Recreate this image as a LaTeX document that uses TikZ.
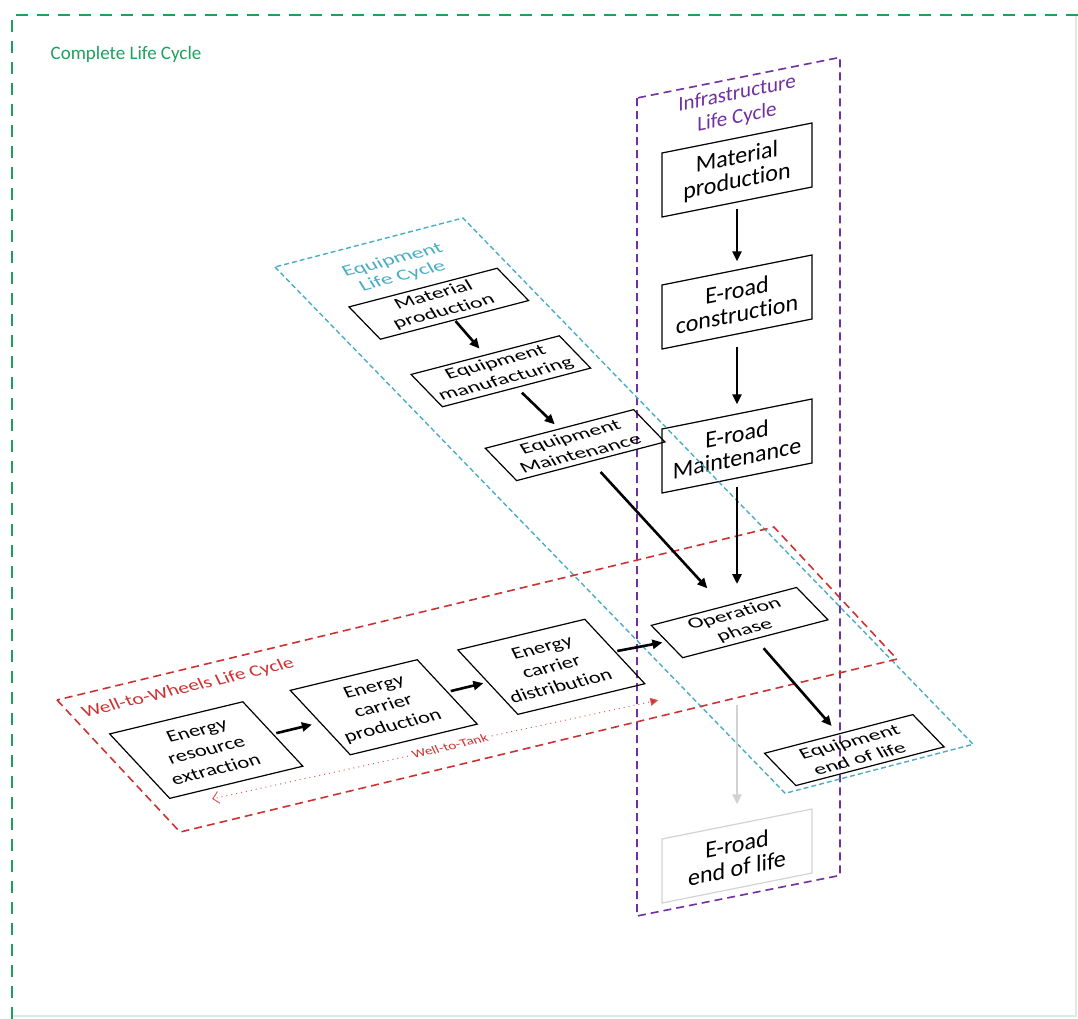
\documentclass[tikz,border=0pt]{standalone}
\usepackage{fontspec}
\setmainfont{Carlito}[Ligatures={NoCommon,NoContextual}]
\usetikzlibrary{arrows.meta}
\definecolor{cgreen}{RGB}{30,160,95}
\definecolor{cpurple}{RGB}{112,48,160}
\definecolor{ccyan}{RGB}{75,172,198}
\definecolor{cred}{RGB}{205,50,50}
\definecolor{cgray}{RGB}{210,210,210}
\begin{document}
\begin{tikzpicture}[x=0.5pt,y=-0.5pt,
  box/.style={draw=black, line width=0.6pt, inner sep=0pt, align=center, transform shape},
  infrabox/.style={box, minimum width=75pt, minimum height=32pt, font=\fontsize{12}{12}\selectfont},
  eqbox/.style={box, minimum width=76.5pt, minimum height=22.5pt},
  wtwbox/.style={box, minimum width=68.5pt, minimum height=44pt},
  ttext/.style={align=center, inner sep=0pt, transform shape},
  eqtxt/.style={ttext, font=\fontsize{11.5}{13.5}\selectfont},
  wtwtxt/.style={ttext, font=\fontsize{11}{13.5}\selectfont},
  infralabel/.style={ttext, text=cpurple, font=\fontsize{10.5}{12}\selectfont},
  eqlabel/.style={ttext, text=ccyan, font=\fontsize{11.5}{13}\selectfont},
  wtwlabel/.style={ttext, text=cred, font=\fontsize{10.5}{12}\selectfont},
  wttlabel/.style={ttext, text=cred, inner sep=2pt, font=\fontsize{7.5}{8}\selectfont},
  flow/.style={-{Triangle[length=5pt,width=4.5pt]}, line width=1.3pt, black},
  grayflow/.style={-{Triangle[length=5pt,width=4.5pt]}, line width=1.3pt, cgray},
  wttline/.style={cred!80, line width=0.5pt, dotted},
]
\useasboundingbox (0,0) rectangle (1078,1019);

% outer frame
\draw[cgreen!18, line width=1pt] (1076,15) -- (1076,1016) -- (12,1016);
\draw[cgreen, line width=1.3pt, dash pattern=on 6pt off 4.5pt] (12,1019) -- (12,15) -- (1078,15);
\node[text=cgreen, font=\fontsize{9.5}{11}\selectfont] (clc) at (126,54) {Complete Life Cycle};

% infrastructure plane
\begin{scope}[shift={(737,0)}, yslant=0.2]
  \draw[cpurple, line width=0.8pt, dash pattern=on 4pt off 2.5pt] (-100,78) rectangle (103,896);
  \node[infralabel] (il) at (0,106) {Infrastructure\\Life Cycle};
  \node[infrabox] (imat) at (0,170) {Material\\production};
  \node[infrabox] (icons) at (0,302) {E-road\\construction};
  \node[infrabox] (imaint) at (0,446) {E-road\\Maintenance};
  \node[infrabox, draw=cgray] (ieol) at (0,856) {E-road\\end of life};
\end{scope}

% equipment plane (boxes)
\begin{scope}[shift={(275,267)}, cm={0.969,0.2526,-0.696,0.718,(0,0)}]
  \draw[ccyan, line width=0.7pt, dash pattern=on 2.5pt off 1.5pt] (0,0) rectangle (194,733);
  \coordinate (elpos) at (100,37);
  \node[eqbox] (emat) at (105.6,88.3) {};
  \node[eqbox] (eman) at (102.8,181.4) {};
  \node[eqbox] (emaint) at (105,285) {};
  \node[eqbox, minimum width=75pt] (op) at (98.8,530) {};
  \node[eqbox] (eeol) at (91.5,705) {};
\end{scope}
% equipment plane (texts, flatter slant)
\begin{scope}[cm={0.969,0.2526,-0.38,0.62,(0,0)}]
  \node[eqlabel] (el) at (elpos) {Equipment\\Life Cycle};
  \node[eqtxt] (emat-t) at (emat.center) {Material\\production};
  \node[eqtxt] (eman-t) at (eman.center) {Equipment\\manufacturing};
  \node[eqtxt] (emaint-t) at (emaint.center) {Equipment\\Maintenance};
  \node[eqtxt] (op-t) at (op.center) {Operation\\phase};
  \node[eqtxt] (eeol-t) at (eeol.center) {Equipment\\end of life};
\end{scope}

% well-to-wheels plane (boxes)
\begin{scope}[shift={(57,700)}, cm={0.972,0.2345,-0.682,0.732,(0,0)}]
  \draw[cred, line width=0.8pt, dash pattern=on 4pt off 2.5pt] (0,0) rectangle (737.6,180.4);
  \coordinate (wlpos) at (119.5,21.8);
  \node[wtwbox] (wext) at (86.2,96) {};
  \node[wtwbox, minimum width=65.3pt] (wprod) at (268.8,96) {};
  \node[wtwbox, minimum width=65.3pt] (wdist) at (441.2,96) {};
  \coordinate (wttpos) at (294,157);
  \coordinate (wttL) at (53,152);
  \coordinate (wttR) at (505,162);
\end{scope}
% well-to-wheels plane (texts)
\begin{scope}[cm={0.972,0.2345,-0.35,0.72,(0,0)}]
  \node[wtwlabel] (wl) at (wlpos) {Well-to-Wheels Life Cycle};
  \node[wtwtxt] (wext-t) at (wext.center) {Energy\\resource\\extraction};
  \node[wtwtxt] (wprod-t) at (wprod.center) {Energy\\carrier\\production};
  \node[wtwtxt] (wdist-t) at (wdist.center) {Energy\\carrier\\distribution};
  \node[wttlabel] (wtt) at (wttpos) {Well-to-Tank};
\end{scope}

% connectors
\draw[flow, shorten <=3pt, shorten >=4pt] (imat.south) -- (icons.north);
\draw[flow, shorten <=6pt, shorten >=4.5pt] (icons.south) -- (imaint.north);
\draw[flow, shorten <=4pt, shorten >=11pt] (imaint.south) -- (imaint.south |- op.north);
\draw[flow, shorten <=0.5pt, shorten >=4pt] (emat.south) -- (eman.north);
\draw[flow, shorten <=3.5pt, shorten >=3pt] (eman.south) -- (emaint.north);
\draw[flow, shorten <=7pt, shorten >=12pt] (emaint.south) -- (op.north);
\draw[flow, shorten <=6pt, shorten >=5pt] (op.south) -- (eeol.north);
\draw[flow, shorten <=1.5pt, shorten >=4pt] (wext.east) -- (wprod.west);
\draw[flow, shorten <=1.5pt, shorten >=2pt] (wprod.east) -- (wdist.west);
\draw[flow, shorten <=1pt, shorten >=2pt] (wdist.east) -- (op.west);
\draw[grayflow, shorten <=33pt, shorten >=9.5pt] (op.south -| ieol.north) -- (ieol.north);
\draw[wttline, -{Straight Barb[length=3pt,width=6pt]}] (wtt.west) -- (wttL);
\draw[wttline, -{Triangle[length=4pt,width=4pt,fill=cred]}] (wtt.east) -- (wttR);
\end{tikzpicture}
\end{document}
